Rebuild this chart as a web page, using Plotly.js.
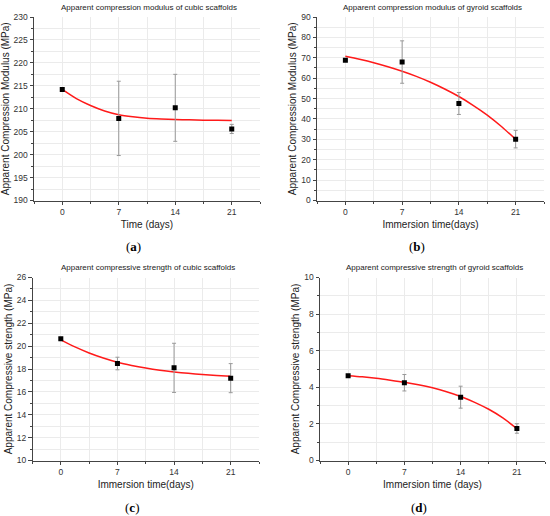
<!DOCTYPE html>
<html>
<head>
<meta charset="utf-8">
<script src="https://cdn.plot.ly/plotly-3.0.1.min.js"></script>
<style>html,body{margin:0;padding:0;background:#fff;}#chart{width:550px;height:516px;}</style>
</head>
<body>
<div id="chart"></div>
<script>
// ---- data ----
const days = [0, 7, 14, 21];
const dayTickLabels = ["0", "7", "14", "21"];
const fitDays = [0, 1.75, 3.5, 5.25, 7, 8.75, 10.5, 12.25, 14, 15.75, 17.5, 19.25, 21];

// (a) apparent compression modulus, cubic
const cubicModulus = [214.2, 207.9, 210.2, 205.6];
const cubicModulusErr = [0.2, 8.1, 7.3, 1.0];
const cubicModulusFit = [214.2, 212.2, 210.7, 209.5, 208.7, 208.25, 207.95, 207.78, 207.67, 207.58, 207.52, 207.48, 207.45];

// (b) apparent compression modulus, gyroid
const gyroidModulus = [68.8, 67.9, 47.6, 30.1];
const gyroidModulusErr = [0.3, 10.4, 5.4, 4.3];
const gyroidModulusFit = [70.8, 69.3, 67.6, 65.6, 63.4, 60.9, 58.0, 54.7, 51.0, 46.7, 41.9, 36.3, 30.0];

// (c) apparent compressive strength, cubic
const cubicStrength = [20.64, 18.48, 18.1, 17.2];
const cubicStrengthErr = [0.1, 0.55, 2.15, 1.27];
const cubicStrengthFit = [20.55, 19.93, 19.40, 18.96, 18.59, 18.31, 18.08, 17.89, 17.74, 17.62, 17.52, 17.44, 17.37];

// (d) apparent compressive strength, gyroid
const gyroidStrength = [4.63, 4.25, 3.46, 1.75];
const gyroidStrengthErr = [0.05, 0.45, 0.6, 0.26];
const gyroidStrengthFit = [4.63, 4.57, 4.49, 4.39, 4.28, 4.14, 3.97, 3.76, 3.50, 3.18, 2.80, 2.33, 1.74];

const panelTitles = [
  "Apparent compression modulus of cubic scaffolds",
  "Apparent compression modulus of gyroid scaffolds",
  "Apparent compressive strength of cubic scaffolds",
  "Apparent compressive strength of gyroid scaffolds"
];
const xTitles = ["Time (days)", "Immersion time(days)", "Immersion time(days)", "Immersion time (days)"];
const yTitles = ["Apparent Compression Modulus (MPa)", "Apparent Compression Modulus (MPa)",
                 "Apparent Compressive strength (MPa)", "Apparent Compressive strength (MPa)"];
const panelLetters = ["a", "b", "c", "d"];

// ---- layout helpers ----
const W = 550, H = 516;
const boxes = [ // pixel boxes [left, right, top, bottom]
  [34, 260, 17, 200.5],
  [317, 544, 17, 200.5],
  [32.5, 259, 277.5, 460.5],
  [320, 545, 277.5, 460.5]
];
const yRanges = [[190, 230], [0, 90], [10, 26], [0, 10]];
const yDticks = [5, 10, 2, 2];
const ySets = [
  [cubicModulus, cubicModulusErr, cubicModulusFit],
  [gyroidModulus, gyroidModulusErr, gyroidModulusFit],
  [cubicStrength, cubicStrengthErr, cubicStrengthFit],
  [gyroidStrength, gyroidStrengthErr, gyroidStrengthFit]
];

const txtColor = "#333";
const baseFont = "Liberation Sans, Arial, sans-serif";
const traces = [];
const layout = {
  width: W, height: H,
  margin: {l: 0, r: 0, t: 0, b: 0},
  paper_bgcolor: "#fff", plot_bgcolor: "#fff",
  showlegend: false,
  font: {family: baseFont, color: txtColor, size: 9},
  annotations: []
};

boxes.forEach((b, i) => {
  const n = i === 0 ? "" : String(i + 1);
  const xa = "x" + n, ya = "y" + n;
  const [vals, errs, fit] = ySets[i];
  traces.push({
    x: fitDays, y: fit, xaxis: xa, yaxis: ya, type: "scatter", mode: "lines",
    line: {color: "#ff1a1a", width: 1.5, shape: "spline", smoothing: 0.8}, hoverinfo: "skip"
  });
  traces.push({
    x: days, y: vals, xaxis: xa, yaxis: ya, type: "scatter", mode: "markers",
    marker: {symbol: "square", size: 5, color: "#000"},
    error_y: {type: "data", array: errs, visible: true, color: "#999", thickness: 1, width: 2}
  });
  const axCommon = {
    showline: true, linecolor: "#444", linewidth: 1, mirror: false,
    ticks: "outside", ticklen: 3.5, tickcolor: "#444", tickwidth: 1,
    showgrid: true, gridcolor: "#ebebeb", gridwidth: 1, zeroline: false,
    tickfont: {size: 8.5, color: txtColor, family: baseFont}
  };
  layout["xaxis" + n] = Object.assign({}, axCommon, {
    domain: [b[0] / W, b[1] / W], anchor: ya,
    range: [-3.5, 24.5], tickmode: "array", tickvals: days, ticktext: dayTickLabels,
    minor: {tickmode: "linear", tick0: 0, dtick: 3.5, ticklen: 2, tickcolor: "#444", showgrid: true, gridcolor: "#ebebeb"},
    title: {text: xTitles[i], font: {size: 10, color: "#222", family: baseFont}, standoff: 4}
  });
  layout["yaxis" + n] = Object.assign({}, axCommon, {
    domain: [1 - b[3] / H, 1 - b[2] / H], anchor: xa,
    range: yRanges[i], dtick: yDticks[i], tick0: 0,
    minor: {dtick: yDticks[i] / 2, ticklen: 2, tickcolor: "#444", showgrid: true, gridcolor: "#ebebeb"},
    title: {text: yTitles[i], font: {size: 10, color: "#222", family: baseFont}, standoff: 2}
  });
  const cx = (b[0] + b[1]) / 2;
  layout.annotations.push({
    text: panelTitles[i], xref: "paper", yref: "paper",
    x: (cx + 2) / W, y: 1 - (b[2] - 10) / H, xanchor: "center", yanchor: "middle",
    showarrow: false, font: {size: 8, color: "#222", family: baseFont}
  });
  layout.annotations.push({
    text: "(<b>" + panelLetters[i] + "</b>)", xref: "paper", yref: "paper",
    x: (cx - 14) / W, y: 1 - (b[3] + 46.5) / H, xanchor: "center", yanchor: "middle",
    showarrow: false, font: {size: 13, color: "#000", family: "Liberation Serif, Times New Roman, serif"}
  });
});

Plotly.newPlot("chart", traces, layout, {displayModeBar: false, staticPlot: true});
</script>
</body>
</html>
